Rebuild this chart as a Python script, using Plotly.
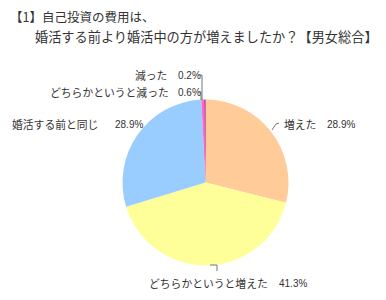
import plotly.graph_objects as go

W, H = 386, 300

categories = ["増えた", "どちらかというと増えた", "婚活する前と同じ", "どちらかというと減った", "減った"]
values = [28.9, 41.3, 28.9, 0.6, 0.2]
colors = ["#FFCC99", "#FFFF99", "#99CCFF", "#FF66CC", "#990066"]
title_lines = ["【1】自己投資の費用は、", "婚活する前より婚活中の方が増えましたか？【男女総合】"]

def px(x):
    return x / W

def py(y):
    return 1 - y / H

fig = go.Figure(go.Pie(
    labels=categories,
    values=values,
    marker=dict(colors=colors, line=dict(width=0)),
    sort=False,
    direction="clockwise",
    rotation=0,
    textinfo="none",
    hoverinfo="label+value",
    domain=dict(x=[px(122.5), px(288.5)], y=[py(265.5), py(99.5)]),
    showlegend=False,
))

JP = "Noto Sans CJK JP"
txt_col = "#333333"

ann = []
# title
ann.append(dict(x=px(8), y=py(16), text=title_lines[0], xanchor="left", yanchor="middle",
                font=dict(family=JP, size=12.5, color=txt_col)))
ann.append(dict(x=px(33), y=py(37), text=title_lines[1], xanchor="left", yanchor="middle",
                font=dict(family=JP, size=13.2, color=txt_col)))

# label positions (pixel) : label start x, value start x, y
label_pos = [
    (282, 325, 124),   # 増えた
    (147, 277, 283),   # どちらかというと増えた
    (10, 113, 124),    # 同じ
    (48, 176, 92),     # どちらかというと減った
    (133, 176, 75),    # 減った
]
for (lx, vx, y), c, v in zip(label_pos, categories, values):
    ann.append(dict(x=px(lx), y=py(y), text=c, xanchor="left", yanchor="middle",
                    font=dict(family=JP, size=10.8, color=txt_col)))
    ann.append(dict(x=px(vx), y=py(y), text=f"{v}%", xanchor="left", yanchor="middle",
                    font=dict(family="Liberation Sans", size=10, color=txt_col)))

for a in ann:
    a.update(xref="paper", yref="paper", showarrow=False)

def path(points):
    d = "M " + " L ".join(f"{px(x)},{py(y)}" for x, y in points)
    return dict(type="path", path=d, xref="paper", yref="paper",
                line=dict(color="#777777", width=1))

shapes = [
    path([(198, 75), (202, 75), (202, 100)]),
    path([(198, 92), (201, 92), (201, 100)]),
    path([(279, 123), (276, 124), (272, 130)]),
    path([(210, 265), (217, 265), (217, 271)]),
]

fig.update_layout(
    width=W, height=H,
    margin=dict(l=0, r=0, t=0, b=0),
    paper_bgcolor="#FFFFFF",
    plot_bgcolor="#FFFFFF",
    annotations=ann,
    shapes=shapes,
)

fig.write_html("out.html")
